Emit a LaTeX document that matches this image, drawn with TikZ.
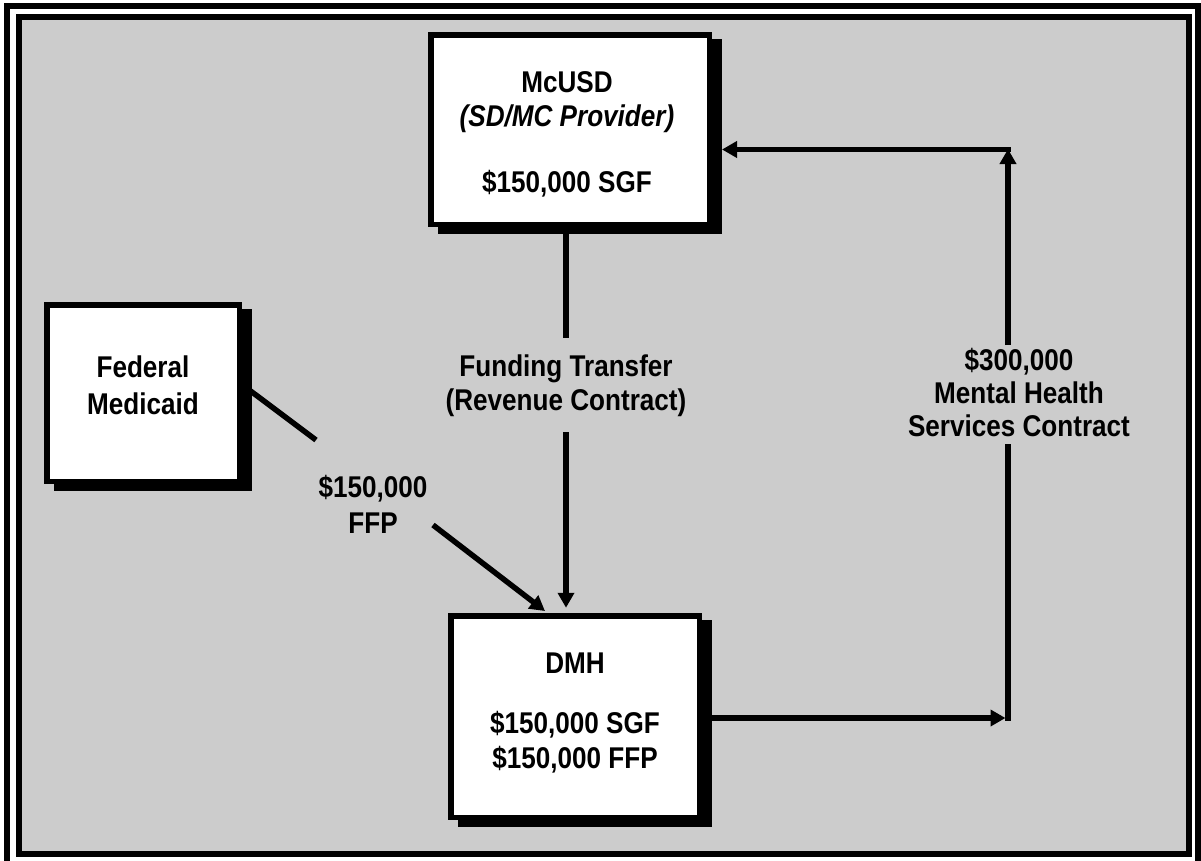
\documentclass[tikz,border=0pt]{standalone}
\usepackage{fontspec}
\setmainfont{Liberation Sans}[FakeStretch=0.87]
\usetikzlibrary{arrows.meta,calc}
\definecolor{bggray}{RGB}{204,204,204}
\pgfdeclarelayer{bg}
\pgfdeclarelayer{shadowlayer}
\pgfsetlayers{bg,shadowlayer,main}
\begin{document}
\begin{tikzpicture}[x=1pt,y=-1pt,
  box/.style={draw=black, line width=5.5pt, fill=white, inner sep=0pt, outer sep=0pt},
  txt/.style={font=\fontsize{30}{36}\selectfont\bfseries, inner sep=0pt, anchor=base},
  itxt/.style={font=\fontsize{30}{36}\selectfont\bfseries\itshape, inner sep=0pt, anchor=base},
  flow/.style={line width=5.5pt},
  arrowed/.style={-{Triangle[width=16pt,length=15pt]}},
  frame/.style={line width=6pt}]
\useasboundingbox (0,0) rectangle (1201,860);
\begin{pgfonlayer}{bg}
  \fill[white] (0,0) rectangle (1201,860);
  \draw[frame] (7,6) rectangle (1198,870);
  \draw[frame, fill=bggray] (19,17) rectangle (1189,854);
\end{pgfonlayer}

% boxes
\node[box, minimum width=278.5pt, minimum height=189.5pt] (mcusd) at (570,129.5) {};
\node[box, minimum width=192.5pt, minimum height=176.5pt] (fed) at (143,393) {};
\node[box, minimum width=248.5pt, minimum height=201.5pt] (dmh) at (575,716.5) {};

\begin{pgfonlayer}{shadowlayer}
  \fill ($(mcusd.north west)+(7.25,4.25)$) rectangle ($(mcusd.south east)+(12.75,9.75)$);
  \fill ($(fed.north west)+(7.25,4.25)$) rectangle ($(fed.south east)+(12.75,9.75)$);
  \fill ($(dmh.north west)+(7.25,4.25)$) rectangle ($(dmh.south east)+(12.75,9.75)$);
\end{pgfonlayer}

% box texts
\node[txt] (mcusdA) at (567,92) {McUSD};
\node[itxt] (mcusdB) at (567,126) {(SD/MC Provider)};
\node[txt] (mcusdC) at (567,192) {\$150,000 SGF};
\node[txt] (fedA) at (143,377) {Federal};
\node[txt] (fedB) at (143,414) {Medicaid};
\node[txt] (dmhA) at (575,673) {DMH};
\node[txt] (dmhB) at (575,733) {\$150,000 SGF};
\node[txt] (dmhC) at (575,768) {\$150,000 FFP};

% connector labels
\node[txt] (ftA) at (566,376) {Funding Transfer};
\node[txt] (ftB) at (566,410) {(Revenue Contract)};
\node[txt] (ffpA) at (373,497) {\$150,000};
\node[txt] (ffpB) at (373,533) {FFP};
\node[txt] (mhA) at (1019,370) {\$300,000};
\node[txt] (mhB) at (1019,403) {Mental Health};
\node[txt] (mhC) at (1019,436) {Services Contract};

% McUSD -> DMH
\coordinate (m1) at (566,338);
\coordinate (m2) at (566,432);
\draw[flow] (m1 |- mcusd.south) -- (m1);
\draw[flow, arrowed] (m2) -- ($(m2 |- dmh.north)+(0,-8)$);

% Federal -> DMH
\coordinate (d1) at (316,440);
\coordinate (d2) at (433,525);
\coordinate (d3) at (545,611);
\draw[flow] ($(fed.east)+(10,-3)$) -- (d1);
\draw[flow, arrowed] (d2) -- (d3);

% DMH -> McUSD
\coordinate (r1) at (1008,718);
\coordinate (r2) at (1008,444);
\coordinate (r3) at (1008,345);
\coordinate (r4) at (1008,149);
\draw[flow, arrowed] ($(dmh.east |- r1)+(12.75,0)$) -- ($(r1)+(-2.5,0)$);
\draw[flow] ($(r1)+(0,2.5)$) -- (r2);
\draw[flow, arrowed] (r3) -- (r4);
\draw[flow, arrowed] ($(r4)+(2.5,0.5)$) -- ($(mcusd.east |- r4)+(12.75,0.5)$);
\end{tikzpicture}
\end{document}
